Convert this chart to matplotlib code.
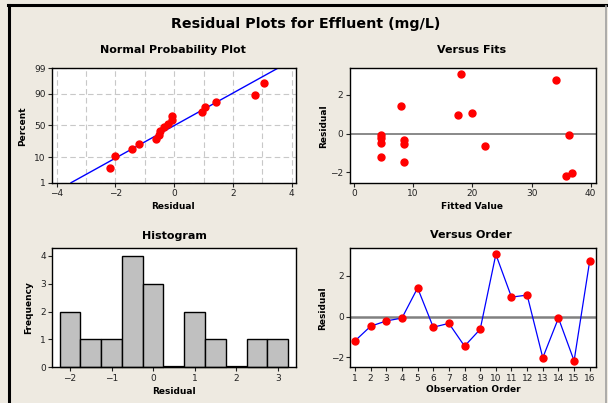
import matplotlib
matplotlib.use("Agg")
import matplotlib.pyplot as plt
from matplotlib.lines import Line2D
from statistics import NormalDist
import numpy as np

# ---------------- data ----------------
observation = list(range(1, 17))
residuals = [-1.19, -0.47, -0.21, -0.07, 1.41, -0.52, -0.33, -1.45,
             -0.62, 3.06, 0.96, 1.06, -2.02, -0.07, -2.17, 2.75]
fitted = [4.6, 4.6, 4.6, 4.6, 8.0, 8.5, 8.5, 8.5,
          22.1, 18.0, 17.6, 20.0, 36.8, 36.3, 35.9, 34.2]
prob_percent = [4.3, 10.4, 16.5, 22.6, 28.7, 34.8, 40.9, 47.0,
                53.0, 59.1, 65.2, 71.3, 77.4, 83.5, 89.6, 95.7]
pct_ticks = [1, 10, 50, 90, 99]
hist_centers = [-2.0, -1.5, -1.0, -0.5, 0.0, 0.5, 1.0, 1.5, 2.0, 2.5, 3.0]
hist_counts = [2, 1, 1, 4, 3, 0, 2, 1, 0, 1, 1]

title = "Residual Plots for Effluent (mg/L)"

BG = "#EEEAE1"
RED = "#FF0000"
BLUE = "#0000FF"
FONT = "DejaVu Sans"

plt.rcParams["font.family"] = FONT
fig = plt.figure(figsize=(6.08, 4.03), dpi=100, facecolor=BG)

W, H = 608.0, 403.0
def rect(x0, y0, x1, y1):
    return [x0 / W, 1 - y1 / H, (x1 - x0) / W, (y1 - y0) / H]

nd = NormalDist()
def z(p):
    return nd.inv_cdf(p / 100.0)

def style(ax):
    ax.set_facecolor("white")
    for s in ax.spines.values():
        s.set_color("black")
        s.set_linewidth(1.0)
    ax.tick_params(labelsize=6.5, length=3, width=0.8, pad=1.5, colors="#222222")

# ---------- Normal probability plot ----------
ax1 = fig.add_axes(rect(51.7, 68.3, 295.7, 182.7))
style(ax1)
srt = sorted(residuals)
ax1.set_xlim(-4.17, 4.14)
ax1.set_ylim(z(1), z(99))
for gx in range(-4, 5):
    ax1.axvline(gx, color="#C8C8C8", lw=0.8, ls=(0, (5, 3)), zorder=0)
for p in pct_ticks:
    ax1.axhline(z(p), color="#C8C8C8", lw=0.8, ls=(0, (5, 3)), zorder=0)
mu = float(np.mean(residuals))
sd = float(np.std(residuals, ddof=1))
lx = [mu + sd * z(1), mu + sd * z(99)]
ax1.plot(lx, [z(1), z(99)], color=BLUE, lw=1.0, zorder=2)
ax1.plot(srt, [z(p) for p in prob_percent], "o", color=RED, ms=5.0, mec=RED, zorder=3)
ax1.set_xticks([-4, -2, 0, 2, 4])
ax1.set_yticks([z(p) for p in pct_ticks])
ax1.set_yticklabels([str(p) for p in pct_ticks])

# ---------- Versus Fits ----------
ax2 = fig.add_axes(rect(349.7, 68.3, 595.7, 182.7))
style(ax2)
ax2.set_xlim(-0.73, 40.84)
ax2.set_ylim(-2.54, 3.38)
ax2.axhline(0, color="#808080", lw=1.3, zorder=1)
ax2.plot(fitted, residuals, "o", color=RED, ms=5.0, mec=RED, zorder=3)
ax2.set_xticks([0, 10, 20, 30, 40])
ax2.set_yticks([-2, 0, 2])

# ---------- Histogram ----------
ax3 = fig.add_axes(rect(52.3, 248.3, 296, 367.3))
style(ax3)
bars = ax3.bar(hist_centers, hist_counts, width=0.5, color="#C0C0C0",
               edgecolor="black", linewidth=1.0, zorder=2)
for b in bars:
    b.set_clip_on(False)
    if b.get_height() == 0:
        b.set_linewidth(1.6)
ax3.set_xlim(-2.426, 3.44)
ax3.set_ylim(0, 4.27)
ax3.set_xticks([-2, -1, 0, 1, 2, 3])
ax3.set_yticks([0, 1, 2, 3, 4])

# ---------- Versus Order ----------
ax4 = fig.add_axes(rect(350, 248.3, 596, 367.3))
style(ax4)
ax4.set_xlim(0.68, 16.4)
ax4.set_ylim(-2.49, 3.36)
ax4.axhline(0, color="#808080", lw=1.8, zorder=1)
ax4.plot(observation, residuals, "-", color=BLUE, lw=0.9, zorder=2)
ax4.plot(observation, residuals, "o", color=RED, ms=5.0, mec=RED, zorder=3)
ax4.set_xticks(observation)
ax4.set_yticks([-2, 0, 2])

# ---------- texts ----------
def ftext(x, y, s, **kw):
    fig.text(x / W, 1 - y / H, s, ha="center", va="center", **kw)

ftext(306, 24, title, fontsize=10.3, fontweight="bold")
ftext(173, 50, "Normal Probability Plot", fontsize=8, fontweight="bold")
ftext(472, 50, "Versus Fits", fontsize=8, fontweight="bold")
ftext(174, 236, "Histogram", fontsize=8, fontweight="bold")
ftext(471, 235, "Versus Order", fontsize=8, fontweight="bold")

ftext(173, 206, "Residual", fontsize=6.5, fontweight="bold")
ftext(472, 206, "Fitted Value", fontsize=6.5, fontweight="bold")
ftext(174, 392, "Residual", fontsize=6.5, fontweight="bold")
ftext(473, 390, "Observation Order", fontsize=6.5, fontweight="bold")

ftext(23, 126, "Percent", fontsize=6.5, fontweight="bold", rotation=90)
ftext(324, 126, "Residual", fontsize=6.5, fontweight="bold", rotation=90)
ftext(29, 308, "Frequency", fontsize=6.5, fontweight="bold", rotation=90)
ftext(323, 308, "Residual", fontsize=6.5, fontweight="bold", rotation=90)

# ---------- window frame ----------
fig.add_artist(Line2D([8 / W, 1.0], [1 - 5 / H, 1 - 5 / H], color="black", lw=2.2,
                      transform=fig.transFigure))
fig.add_artist(Line2D([9 / W, 9 / W], [0, 1 - 5 / H], color="black", lw=2.2,
                      transform=fig.transFigure))
fig.add_artist(Line2D([605.5 / W, 605.5 / W], [0, 1 - 6 / H], color="#A0A0A0", lw=1.2,
                      transform=fig.transFigure))

fig.savefig("out.png", dpi=100, facecolor=BG)
